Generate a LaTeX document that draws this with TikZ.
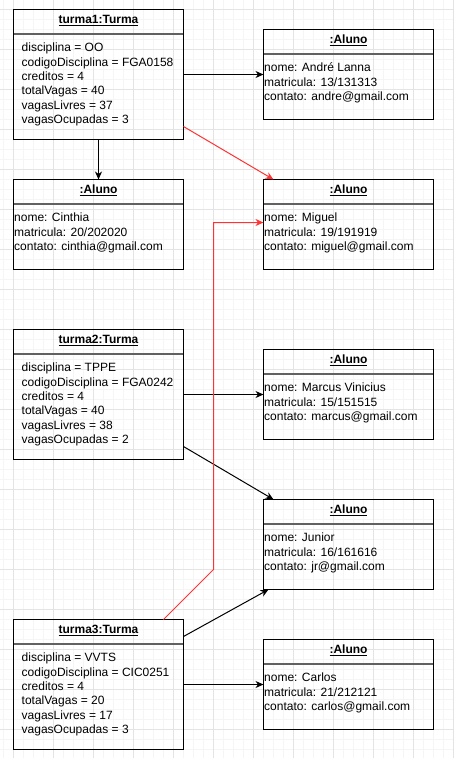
\documentclass[tikz,border=0pt]{standalone}
\usepackage{fontspec}
\setmainfont{Liberation Sans}
\usetikzlibrary{arrows.meta, positioning}
\definecolor{umlred}{HTML}{FF3333}
\definecolor{gridmajor}{HTML}{E4E4E4}
\definecolor{gridminor}{HTML}{F5F5F5}

\begin{document}
\begin{tikzpicture}[x=1pt, y=-1pt,
    obj/.style={draw, line width=1pt, outer sep=0pt, inner sep=0pt,
                minimum width=170pt},
    turma/.style={obj, minimum height=130pt},
    aluno/.style={obj, minimum height=90pt},
    sepline/.style={draw=black!62, line width=2pt},
    title/.style={anchor=base, inner sep=0pt,
                  font=\fontsize{12}{14.4}\selectfont\bfseries},
    attrs/.style={anchor=north west, inner sep=0pt, align=left,
                  font=\fontsize{12}{14.4}\selectfont},
    arr/.style={-{Stealth[length=8pt, width=7pt, inset=2.5pt]}, line width=1pt},
    redarr/.style={arr, umlred},
  ]
  \useasboundingbox (0,0) rectangle (454,758);
  % background grid
  \fill[white] (0,0) rectangle (454,758);
  \begin{scope}
    \clip (0,0) rectangle (454,758);
    \draw[gridminor, line width=1pt, step=10pt, xshift=3.5pt, yshift=0.5pt]
          (-20pt,-780pt) grid (470pt,20pt);
    \draw[gridmajor, line width=1pt, step=40pt, xshift=13.5pt, yshift=-9.5pt]
          (-80pt,-800pt) grid (480pt,80pt);
  \end{scope}

  % objects
  \node[turma] (t1) at (98.5,74.5) {};
  \node[aluno, right=80pt of t1] (andre) {};
  \node[aluno, below=40pt of t1] (cinthia) {};
  \node[aluno, right=80pt of cinthia] (miguel) {};
  \node[turma, below=60pt of cinthia] (t2) {};
  \node[aluno, right=80pt of t2] (marcus) {};
  \node[aluno, below=60pt of marcus] (junior) {};
  \node[turma, below=160pt of t2] (t3) {};
  \node[aluno, right=80pt of t3] (carlos) {};

  \foreach \b in {t1, andre, cinthia, miguel, t2, marcus, junior, t3, carlos}
    \draw[sepline] ([xshift=0.5pt, yshift=-24.5pt]\b.north west)
                -- ([xshift=-0.5pt, yshift=-24.5pt]\b.north east);

  \node[title] (t1-name) at ([yshift=-14pt]t1.north) {\underline{turma1:Turma}};
  \node[title] (t2-name) at ([yshift=-14pt]t2.north) {\underline{turma2:Turma}};
  \node[title] (t3-name) at ([yshift=-14pt]t3.north) {\underline{turma3:Turma}};
  \foreach \a in {andre, cinthia, miguel, marcus, junior, carlos}
    \node[title] (\a-name) at ([yshift=-14pt]\a.north) {\underline{:Aluno}};

  \node[attrs] (t1-attr) at ([xshift=8pt, yshift=-32pt]t1.north west)
        {\strut disciplina = OO\\codigoDisciplina = FGA0158\\creditos = 4\\
         totalVagas = 40\\vagasLivres = 37\\vagasOcupadas = 3};
  \node[attrs] (t2-attr) at ([xshift=8pt, yshift=-32pt]t2.north west)
        {\strut disciplina = TPPE\\codigoDisciplina = FGA0242\\creditos = 4\\
         totalVagas = 40\\vagasLivres = 38\\vagasOcupadas = 2};
  \node[attrs] (t3-attr) at ([xshift=8pt, yshift=-32pt]t3.north west)
        {\strut disciplina = VVTS\\codigoDisciplina = CIC0251\\creditos = 4\\
         totalVagas = 20\\vagasLivres = 17\\vagasOcupadas = 3};

  \node[attrs] (andre-attr) at ([xshift=0.5pt, yshift=-32pt]andre.north west)
        {\strut nome: André Lanna\\matricula: 13/131313\\contato: andre@gmail.com};
  \node[attrs] (cinthia-attr) at ([xshift=0.5pt, yshift=-32pt]cinthia.north west)
        {\strut nome: Cinthia\\matricula: 20/202020\\contato: cinthia@gmail.com};
  \node[attrs] (miguel-attr) at ([xshift=0.5pt, yshift=-32pt]miguel.north west)
        {\strut nome: Miguel\\matricula: 19/191919\\contato: miguel@gmail.com};
  \node[attrs] (marcus-attr) at ([xshift=0.5pt, yshift=-32pt]marcus.north west)
        {\strut nome: Marcus Vinicius\\matricula: 15/151515\\contato: marcus@gmail.com};
  \node[attrs] (junior-attr) at ([xshift=0.5pt, yshift=-32pt]junior.north west)
        {\strut nome: Junior\\matricula: 16/161616\\contato: jr@gmail.com};
  \node[attrs] (carlos-attr) at ([xshift=0.5pt, yshift=-32pt]carlos.north west)
        {\strut nome: Carlos\\matricula: 21/212121\\contato: carlos@gmail.com};

  % links
  \draw[arr] (t1.east) -- (andre.west);
  \draw[arr] (t1.south) -- (cinthia.north);
  \draw[redarr] ([yshift=13pt]t1.south east) -- ([xshift=10pt]miguel.north west);
  \draw[arr] (t2.east) -- (marcus.west);
  \draw[arr] ([yshift=13pt]t2.south east) -- ([xshift=10pt]junior.north west);
  \draw[redarr] ([xshift=-20pt]t3.north east) -- ++(50,-50) |- ([yshift=2pt]miguel.west);
  \draw[arr] ([yshift=-17pt]t3.north east) -- ([xshift=5pt]junior.south west);
  \draw[arr] (t3.east) -- (carlos.west);
\end{tikzpicture}
\end{document}
